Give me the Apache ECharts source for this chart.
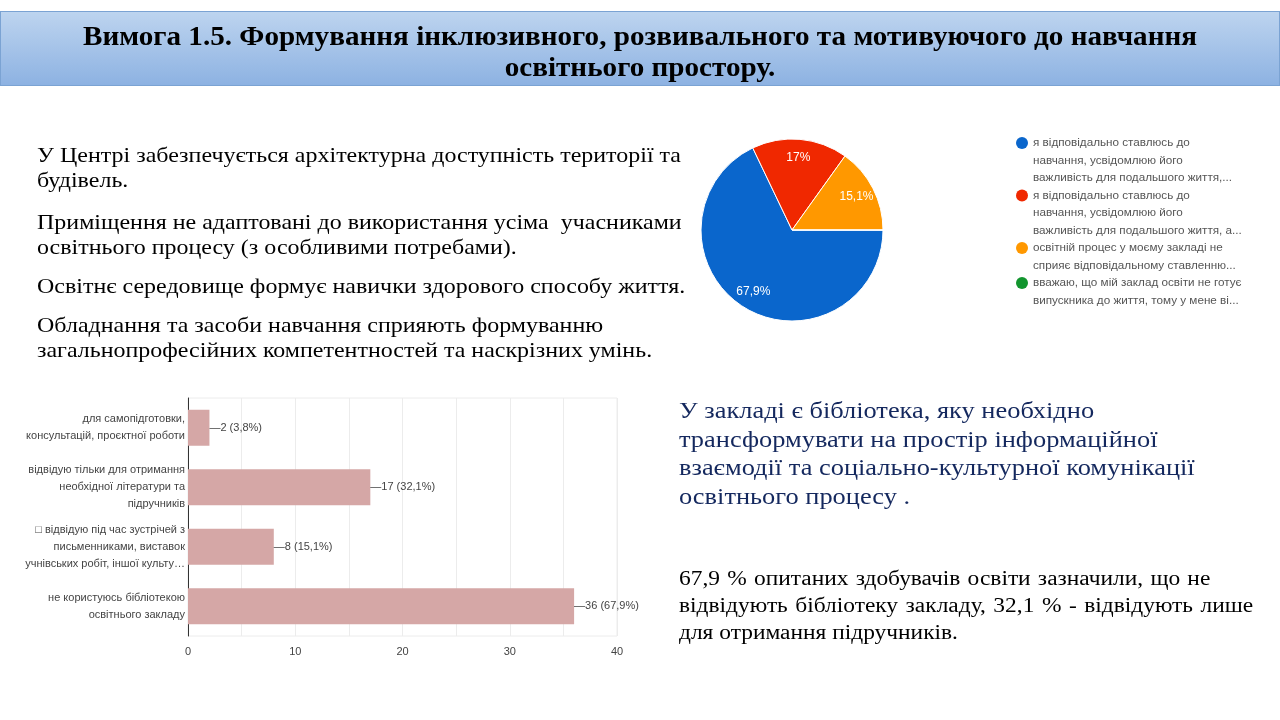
<!DOCTYPE html>
<html><head><meta charset="utf-8">
<script src="https://cdn.jsdelivr.net/npm/echarts@6/dist/echarts.min.js"></script>
<style>
html,body{margin:0;padding:0;background:#fff;}
#wrap{position:relative;width:1280px;height:720px;overflow:hidden;background:#fff;}
#chart{position:absolute;left:0;top:0;width:1280px;height:720px;}
.t{position:absolute;font-family:"Liberation Serif","Times New Roman",serif;white-space:nowrap;z-index:5;transform-origin:0 0;transform:scaleX(1.1);}
#banner{position:absolute;left:0;top:11px;width:1278px;height:73px;border:1px solid #7ba3d3;background:linear-gradient(#bdd4ef,#8db2e2);z-index:4;}
#title{left:0;top:21px;width:1280px;text-align:center;font-weight:bold;font-size:26.5px;line-height:31px;color:#000;transform-origin:640px 0;}
.lp{font-size:21.8px;line-height:25px;color:#000;left:37px;}
.nv{font-size:24px;line-height:28.7px;color:#14285e;left:679px;top:396px;}
.bl{font-size:21.3px;line-height:27px;color:#000;left:679px;}
.j{display:block;text-align:justify;text-align-last:justify;}
</style></head>
<body><div id="wrap">
<div id="banner"></div>
<div class="t" id="title">Вимога 1.5. Формування інклюзивного, розвивального та мотивуючого до навчання<br>освітнього простору.</div>
<div class="t lp" style="top:143px">У Центрі забезпечується архітектурна доступність території та<br>будівель.</div>
<div class="t lp" style="top:210px">Приміщення не адаптовані до використання усіма &nbsp;учасниками<br>освітнього процесу (з особливими потребами).</div>
<div class="t lp" style="top:274px">Освітнє середовище формує навички здорового способу життя.</div>
<div class="t lp" style="top:313px">Обладнання та засоби навчання сприяють формуванню<br>загальнопрофесійних компетентностей та наскрізних умінь.</div>
<div class="t nv">У закладі є бібліотека, яку необхідно<br>трансформувати на простір інформаційної<br>взаємодії та соціально-культурної комунікації<br>освітнього процесу .</div>
<div class="t bl" style="top:565px">
<span class="j" style="width:483px">67,9 % опитаних здобувачів освіти зазначили, що не</span>
<span class="j" style="width:522px">відвідують бібліотеку закладу, 32,1 % - відвідують лише</span>
<span style="display:block">для отримання підручників.</span>
</div>
<div id="chart"></div>
</div>
<script>
// Pie data
const pieNames = [
  'я відповідально ставлюсь до навчання, усвідомлюю його важливість для подальшого життя,...',
  'я відповідально ставлюсь до навчання, усвідомлюю його важливість для подальшого життя, а...',
  'освітній процес у моєму закладі не сприяє відповідальному ставленню...',
  'вважаю, що мій заклад освіти не готує випускника до життя, тому у мене ві...'
];
const pieLegendLines = [
  ['я відповідально ставлюсь до', 'навчання, усвідомлюю його', 'важливість для подальшого життя,...'],
  ['я відповідально ставлюсь до', 'навчання, усвідомлюю його', 'важливість для подальшого життя, а...'],
  ['освітній процес у моєму закладі не', 'сприяє відповідальному ставленню...'],
  ['вважаю, що мій заклад освіти не готує', 'випускника до життя, тому у мене ві...']
];
const pieValues = [67.9, 17, 15.1, 0];
const pieColors = ['#0a66cc', '#f02800', '#ff9800', '#12952e'];

// Bar data
const barCats = [
  'для самопідготовки,\nконсультацій, проєктної роботи',
  'відвідую тільки для отримання\nнеобхідної літератури та\nпідручників',
  '\u25A1 відвідую під час зустрічей з\nписьменниками, виставок\nучнівських робіт, іншої культу…',
  'не користуюсь бібліотекою\nосвітнього закладу'
];
const barValues = [2, 17, 8, 36];
const barPercents = ['3,8%', '32,1%', '15,1%', '67,9%'];
const xTicks = [0, 10, 20, 30, 40];

const chart = echarts.init(document.getElementById('chart'), null, {renderer: 'canvas'});
const pieData = pieNames.map((n, i) => ({name: n, value: pieValues[i], itemStyle: {color: pieColors[i]}}));

// legend as graphic
const legendGraphics = [];
let lineIdx = 0;
const lh = 17.5;
pieLegendLines.forEach((lines, i) => {
  const y0 = 143 + lineIdx * lh;
  legendGraphics.push({type: 'circle', shape: {cx: 1022, cy: y0, r: 6}, style: {fill: pieColors[i]}, silent: true});
  legendGraphics.push({type: 'text', x: 1033, y: y0 - lh / 2, style: {text: lines.join('\n'), font: '11.7px Arial, "Liberation Sans", sans-serif', fill: '#555', lineHeight: lh, verticalAlign: 'top'}, silent: true});
  lineIdx += lines.length;
});

const option = {
  animation: false,
  graphic: legendGraphics,
  grid: {left: 188, top: 398, width: 429, height: 238, show: true, borderColor: '#ececec', borderWidth: 1},
  xAxis: {
    type: 'value', min: 0, max: 40, interval: 5,
    axisLine: {show: false}, axisTick: {show: false},
    splitLine: {lineStyle: {color: '#ececec'}},
    axisLabel: {color: '#444', fontSize: 11, fontFamily: 'Arial', margin: 10,
      formatter: v => xTicks.indexOf(v) >= 0 ? String(v) : ''}
  },
  yAxis: {
    type: 'category', inverse: true, data: barCats,
    axisLine: {show: true, lineStyle: {color: '#333', width: 1}},
    axisTick: {show: false},
    axisLabel: {color: '#444', fontSize: 11, fontFamily: 'Arial', lineHeight: 17, margin: 3, align: 'right'}
  },
  series: [
    {
      type: 'bar', data: barValues, barWidth: 36,
      itemStyle: {color: '#d5a7a6'},
      label: {show: true, position: 'right', distance: 0, color: '#444', fontSize: 11, fontFamily: 'Arial',
        formatter: p => '\u2014' + p.value + ' (' + barPercents[p.dataIndex] + ')'},
      silent: true
    },
    {
      type: 'pie', center: [792, 230], radius: 91, startAngle: 0, clockwise: true,
      label: {show: false}, labelLine: {show: false},
      itemStyle: {borderColor: '#fff', borderWidth: 1},
      data: pieData, silent: true
    },
    {
      type: 'pie', center: [792, 230], radius: [48, 91], startAngle: 0, clockwise: true,
      itemStyle: {color: 'rgba(0,0,0,0)'},
      label: {show: true, position: 'inside', color: '#fff', fontSize: 12, fontFamily: 'Arial',
        formatter: p => p.value > 0 ? String(p.value).replace('.', ',') + '%' : ''},
      labelLine: {show: false},
      data: pieValues.map((v, i) => ({name: pieNames[i], value: v})), silent: true
    }
  ]
};
chart.setOption(option);
</script>
</body></html>
